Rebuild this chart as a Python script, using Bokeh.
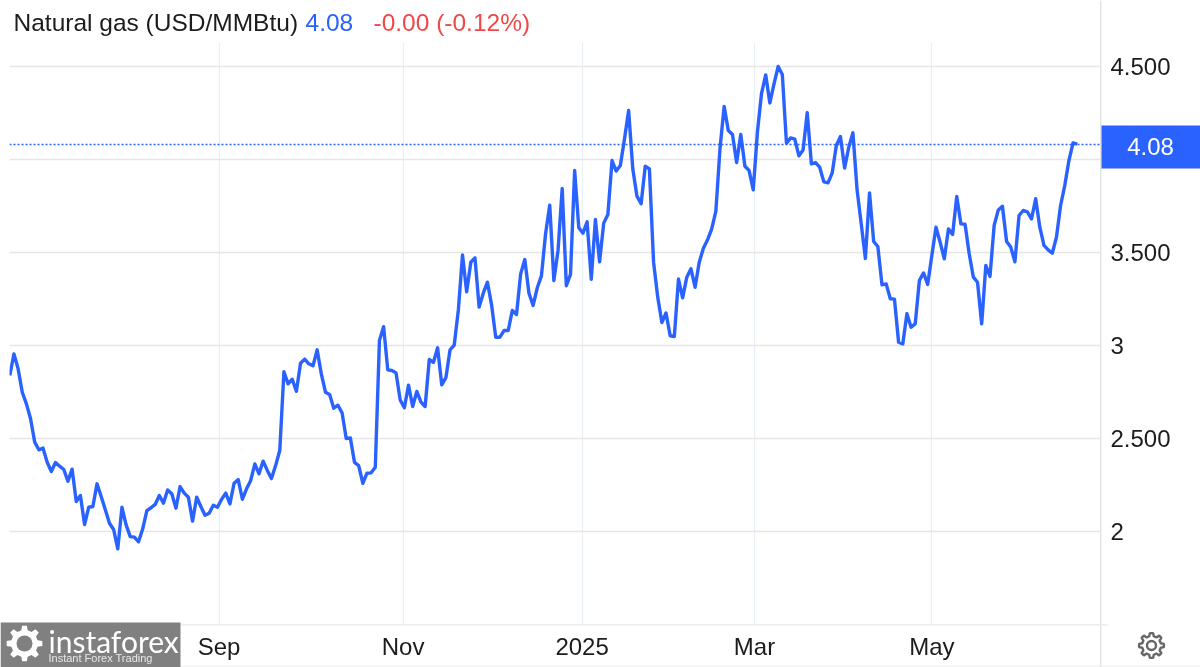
import numpy as np
from bokeh.core.properties import value
from bokeh.embed import file_html
from bokeh.resources import INLINE
from bokeh.plotting import figure
from bokeh.models import Range1d, FixedTicker, Span, ColumnDataSource

part_aug_oct = [2.837,2.953,2.873,2.747,2.684,2.604,2.478,2.437,2.446,2.370,2.320,2.369,2.349,2.331,2.268,2.333,
 2.159,2.191,2.035,2.128,2.132,2.254,2.186,2.114,2.042,2.008,1.904,2.128,2.033,1.970,1.967,1.942,2.012,2.110,2.125,
 2.143,2.191,2.150,2.221,2.200,2.123,2.239,2.204,2.182,2.053,2.182,2.132,2.085,2.096,2.139,2.128,2.171,2.204,2.146,
 2.257,2.277,2.171,2.227,2.272,2.361,2.308,2.376,2.326,2.282,2.352,2.433,2.857,2.792,2.817,2.752,2.903,2.925,2.900,
 2.889,2.975,2.846,2.747,2.735,2.661,2.677,2.636,2.498,2.501,2.369,2.352,2.257,2.311,2.313,2.343,3.025,3.100,2.867,
 2.864,2.851,2.705]
part_nov_jan = [2.663,2.785,2.670,2.751,2.694,2.670,2.923,2.907,2.986,2.787,2.825,2.975,3.000,3.190,3.486,3.287,3.447,
 3.470,3.205,3.280,3.339,3.217,3.043,3.043,3.079,3.079,3.187,3.165,3.384,3.461,3.280,3.214,3.309,3.373,3.600,3.754,
 3.348,3.510,3.843,3.320,3.381,3.940,3.632,3.603,3.664,3.355,3.677,3.449,3.657,3.704,3.994,3.937,3.967,4.110,4.263,
 3.949,3.802,3.761,3.964,3.949,3.447,3.259,3.122,3.173,3.051,3.047,3.356,3.255,3.366,3.411,3.312,3.447,3.522,3.567,
 3.626,3.722]
part_feb_jun = [4.060,4.285,4.155,4.134,3.983,4.134,3.963,3.940,3.836,4.146,4.356,4.455,4.304,4.407,4.500,4.457,4.087,
 4.116,4.109,4.019,4.051,4.252,3.976,3.983,3.958,3.879,3.874,3.926,4.075,4.123,3.953,4.066,4.143,3.836,3.653,3.467,
 3.820,3.558,3.531,3.325,3.330,3.250,3.248,3.016,3.007,3.169,3.097,3.115,3.348,3.389,3.327,3.483,3.635,3.554,3.465,
 3.626,3.596,3.800,3.653,3.651,3.492,3.366,3.339,3.115,3.429,3.370,3.644,3.728,3.748,3.558,3.528,3.449,3.698,3.725,
 3.718,3.680,3.788,3.635,3.537,3.513,3.495,3.581,3.752,3.859,3.994,4.089,4.082]
values = part_aug_oct + part_nov_jan + part_feb_jun

x_tick_pos = [50.4, 94.7, 137.8, 179.3, 222.0]
x_tick_labels = ["Sep", "Nov", "2025", "Mar", "May"]
y_ticks = [2, 2.5, 3, 3.5, 4, 4.5]
y_tick_labels = ["2", "2.500", "3", "3.500", "4", "4.500"]
last_value = 4.08

W, H = 1200, 667
L, R, T, B = 9, 1100, 42, 624
n = len(values)
step = (1076.7 - 9.3) / (n - 1)
FONT = "Liberation Sans"
BLUE = "#2962ff"
FIXED = {"position": "fixed", "left": "0px", "top": "0px"}

p = figure(width=W, height=H, output_backend="svg", toolbar_location=None,
           x_range=Range1d((L - 9.3) / step, (R - 9.3) / step),
           y_range=Range1d(2 - (B - 530.5) / 185.8, 2 + (530.5 - T) / 185.8),
           min_border_left=L, min_border_right=W - R, min_border_top=T, min_border_bottom=H - B,
           outline_line_color=None, background_fill_color="white", border_fill_color="white",
           x_axis_location="below", y_axis_location="right")
p.styles = FIXED

xa, ya = p.xaxis[0], p.yaxis[0]
xa.ticker = FixedTicker(ticks=x_tick_pos)
xa.major_label_overrides = dict(zip(x_tick_pos, x_tick_labels))
ya.ticker = FixedTicker(ticks=y_ticks)
ya.major_label_overrides = dict(zip(y_ticks, y_tick_labels))
for ax in (xa, ya):
    ax.axis_line_color = None
    ax.major_tick_line_color = None
    ax.minor_tick_line_color = None
    ax.major_label_text_font = FONT
    ax.major_label_text_font_size = "24px"
    ax.major_label_text_color = "#1c1c1c"
xa.major_label_standoff = 2
ya.major_label_standoff = 4

p.xgrid.grid_line_color = "#e8eff5"
p.xgrid.grid_line_width = 1.3
p.ygrid.grid_line_color = "#e6e6e6"
p.ygrid.grid_line_width = 1.6

src = ColumnDataSource(dict(x=np.arange(n), y=values))
p.line("x", "y", source=src, line_color=BLUE, line_width=3.4, line_join="round")
p.add_layout(Span(location=last_value, dimension="width", line_color=BLUE, line_width=1.6, line_dash="2 2"))

# Transparent full-page layer in page pixels: header, price tag, logo, settings icon
o = figure(width=W, height=H, output_backend="svg", toolbar_location=None,
           x_range=Range1d(0, W), y_range=Range1d(H, 0), x_axis_type=None, y_axis_type=None,
           min_border=0, outline_line_color=None, background_fill_color=None, border_fill_color=None)
o.grid.visible = False
o.styles = FIXED


def sbox(l, r, t, b, color):
    o.quad(left=l, right=r, top=t, bottom=b, fill_color=color, line_color=None)


def slabel(x, y, text, size, color, font=FONT, align="left"):
    o.text(x=[x], y=[y], text=[text], text_font=value(font), text_font_size=size, text_color=color,
           text_align=align, text_baseline="middle")


def gear(cx, cy, r_out, r_in, teeth):
    a = []
    rr = []
    for k in range(teeth):
        a0 = 2 * np.pi * k / teeth
        d = 2 * np.pi / teeth
        a += [a0 - 0.30 * d, a0 - 0.17 * d, a0 + 0.17 * d, a0 + 0.30 * d]
        rr += [r_in, r_out, r_out, r_in]
    a, rr = np.array(a), np.array(rr)
    return (cx + rr * np.sin(a)).tolist(), (cy + rr * np.cos(a)).tolist()


# axis borders
sbox(1099.5, 1101, 0, 667, "#e4e4e4")
sbox(180, 1107, 623.5, 625, "#ececec")
sbox(180, 1200, 665, 666, "#f0f0f0")

# price tag
sbox(1101, 1200, 125, 168, BLUE)
slabel(1150, 146, "4.08", "24px", "white", align="center")

# header
slabel(13, 22, "Natural gas (USD/MMBtu)", "24.5px", "#1c1c1c")
slabel(305, 22, "4.08", "24.5px", BLUE)
slabel(373, 22, "-0.00 (-0.12%)", "24.5px", "#f04848")

# logo
sbox(0, 180, 622, 667, "#808080")
slabel(48, 640, "instaforex", "30px", "white", font="Lato")
slabel(48, 657, "Instant Forex Trading", "11px", "#e8e8e8")
xs, ys = gear(24, 643, 18, 13.5, 8)
o.patch(xs, ys, fill_color="white", line_color=None)
o.circle(x=[24], y=[643], radius=8, fill_color="#808080", line_color=None)

# settings icon
xs, ys = gear(1151, 645, 12.5, 9.5, 8)
o.patch(xs, ys, fill_color=None, line_color="#666666", line_width=2.4)
o.circle(x=[1151], y=[645], radius=4.5, fill_color=None, line_color="#666666", line_width=2.4)

open("out.html", "w").write(file_html([p, o], INLINE))
